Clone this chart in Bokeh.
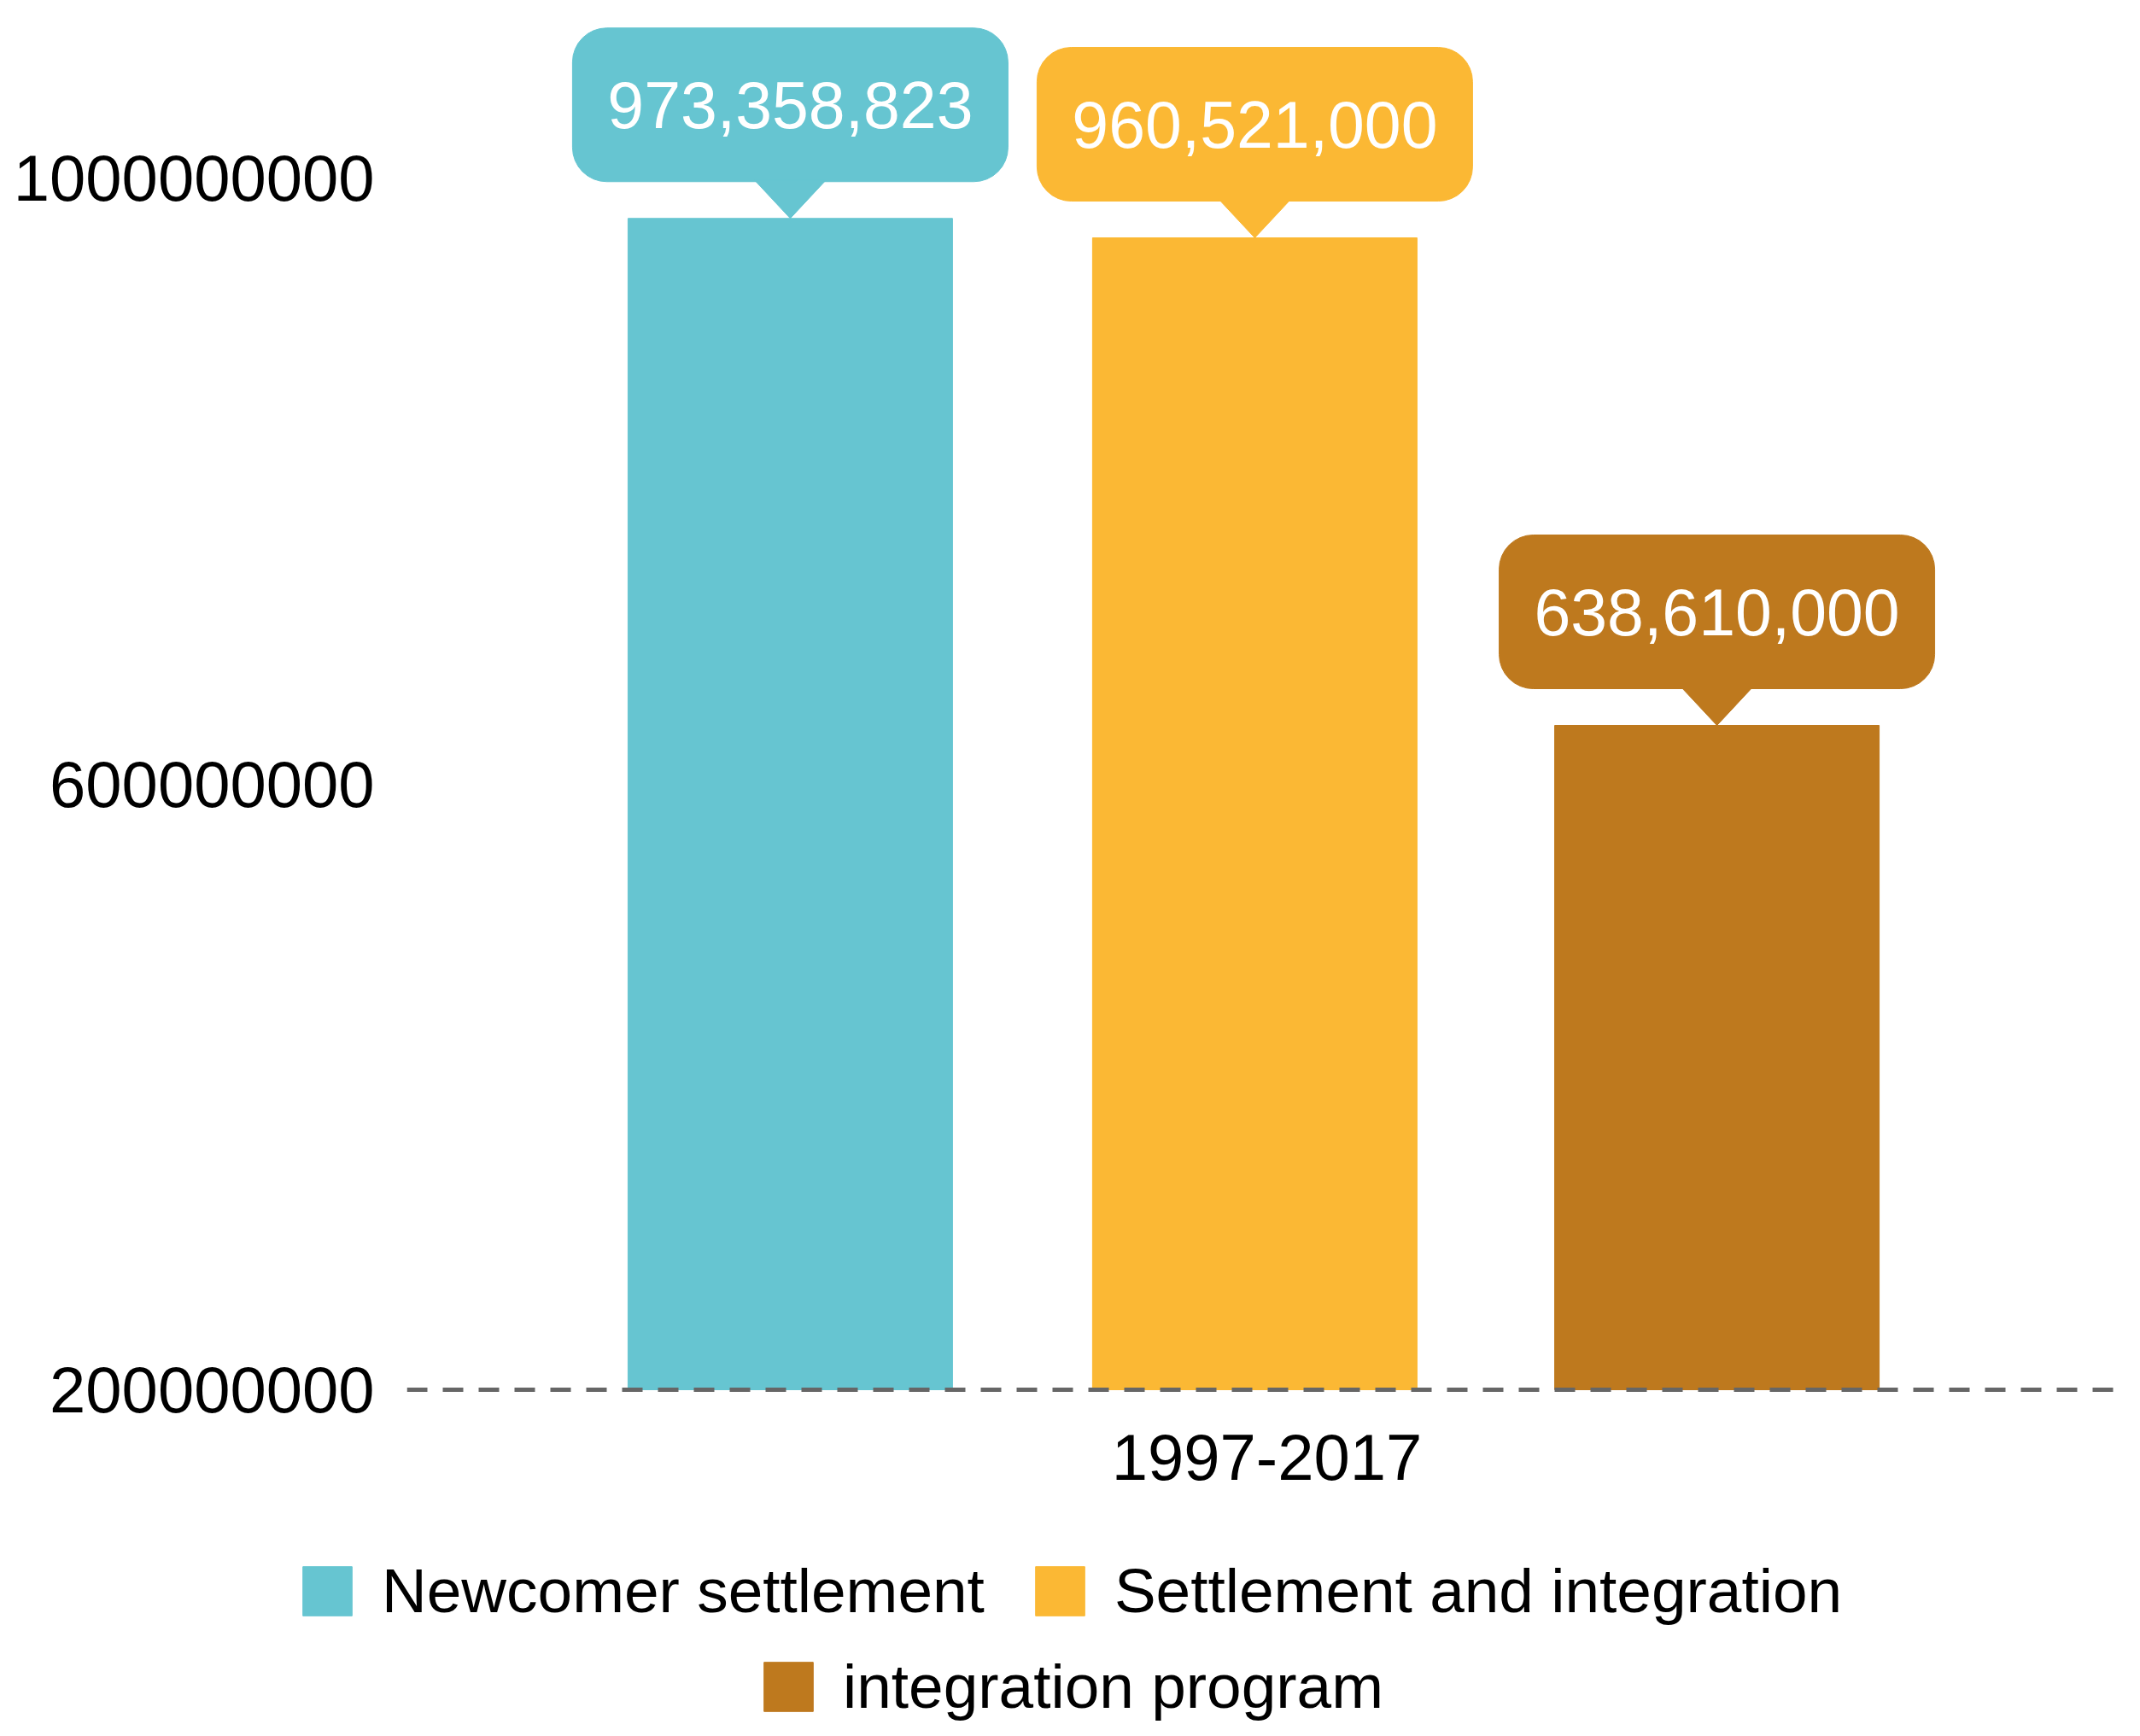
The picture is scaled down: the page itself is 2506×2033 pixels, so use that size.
from bokeh.plotting import figure
from bokeh.models import (Range1d, FixedTicker, BasicTickFormatter, Legend, LegendItem,
                          ColumnDataSource, Span)
from bokeh.layouts import column, row
from bokeh.embed import file_html
from bokeh.resources import INLINE
from bokeh.core.properties import value

# ---- data ----
categories = ["1997-2017"]
series = ["Newcomer settlement", "Settlement and integration", "integration program"]
values = [973358823, 960521000, 638610000]
value_labels = ["973,358,823", "960,521,000", "638,610,000"]
colors = ["#66C5D1", "#FBB834", "#BE791E"]
y_ticks = [200000000, 600000000, 1000000000]
baseline = 200000000

# ---- layout constants ----
W = 2490
H1, H2 = 1790, 227
LEFT = 476
FRAME_W = W - LEFT
k = 800e6 / 1419                    # data units per pixel (y)
Y1 = 1e9 + 208 * k
Y0 = baseline - (H1 - 1627) * k
upx = k
xpx = 1.0 / FRAME_W
CAT_X = 0.5
offsets = [-0.2771, -0.0070, 0.2617]
BAR_W = 380 * xpx
FONT = "Liberation Sans"

p = figure(width=W, height=H1, output_backend="svg", toolbar_location=None,
           x_range=Range1d(0, 1), y_range=Range1d(Y0, Y1),
           min_border_left=LEFT, min_border_right=0, min_border_top=0,
           min_border_bottom=0, x_axis_location=None)
p.outline_line_color = None
p.grid.visible = False
p.background_fill_color = "white"
p.border_fill_color = "white"

xs = [CAT_X + o for o in offsets]
src = ColumnDataSource(dict(x=xs, top=values, color=colors, name=series, lab=value_labels))
bars = p.vbar(x="x", top="top", bottom=baseline, width=BAR_W, color="color", source=src)

# dashed baseline (category axis line)
p.add_layout(Span(location=baseline, dimension="width", line_color="#666666",
                  line_width=5, line_dash="24 18"))

# category label
p.text(x=[CAT_X], y=[baseline - 79 * upx], text=categories, text_color="black",
       text_font=value(FONT), text_font_size="76px", text_align="center",
       text_baseline="middle")

# callouts
gap = 43 * upx
bh = 180 * upx
bw = 510 * xpx
tri = 42 * xpx
src_b = ColumnDataSource(dict(
    left=[x - bw / 2 for x in xs], right=[x + bw / 2 for x in xs],
    bottom=[v + gap for v in values], top=[v + gap + bh for v in values],
    color=colors, cx=xs, cy=[v + gap + bh / 2 for v in values], lab=value_labels))
p.quad(left="left", right="right", bottom="bottom", top="top", color="color",
       border_radius=40, source=src_b)
p.patches(xs=[[x - tri, x + tri, x] for x in xs],
          ys=[[v + gap + 2 * upx, v + gap + 2 * upx, v] for v in values],
          color=colors)
p.text(x="cx", y="cy", text="lab", source=src_b, text_color="white",
       text_font=value(FONT), text_font_size="77px", text_align="center",
       text_baseline="middle")

# y axis
p.yaxis.ticker = FixedTicker(ticks=y_ticks)
p.yaxis.formatter = BasicTickFormatter(use_scientific=False)
p.yaxis.axis_line_color = None
p.yaxis.major_tick_line_color = None
p.yaxis.minor_tick_line_color = None
p.yaxis.major_label_text_font = FONT
p.yaxis.major_label_text_font_size = "76px"
p.yaxis.major_label_text_color = "black"
p.yaxis.major_label_standoff = 32

# ---- legend strip ----
p2 = figure(width=W, height=H2, output_backend="svg", toolbar_location=None,
            x_range=Range1d(0, 1), y_range=Range1d(0, 1),
            x_axis_location=None, y_axis_location=None,
            min_border_left=0, min_border_right=0, min_border_top=0, min_border_bottom=0)
p2.outline_line_color = None
p2.grid.visible = False
p2.background_fill_color = "white"
p2.border_fill_color = "white"
# legend swatches reference these renderers (placed outside the visible range)
lsrc = ColumnDataSource(dict(x=[5, 5, 5], top=[1, 1, 1], color=colors))
lbars = p2.vbar(x="x", top="top", width=0.1, color="color", source=lsrc,
                border_radius=8)

def make_legend(idx, loc):
    items = [LegendItem(label=series[i], renderers=[lbars], index=i) for i in idx]
    return Legend(items=items, orientation="horizontal", location=loc,
                  label_text_font=FONT, label_text_font_size="73px",
                  label_text_color="black", glyph_width=72, glyph_height=72,
                  label_standoff=28, spacing=52, border_line_color=None,
                  background_fill_alpha=0, padding=0, margin=0)

p2.add_layout(make_legend([0, 1], (347, 113)))
p2.add_layout(make_legend([2], (887, 1)))

layout = column(p, row(p2, spacing=0), spacing=0)
open("out.html", "w").write(file_html(layout, INLINE))
